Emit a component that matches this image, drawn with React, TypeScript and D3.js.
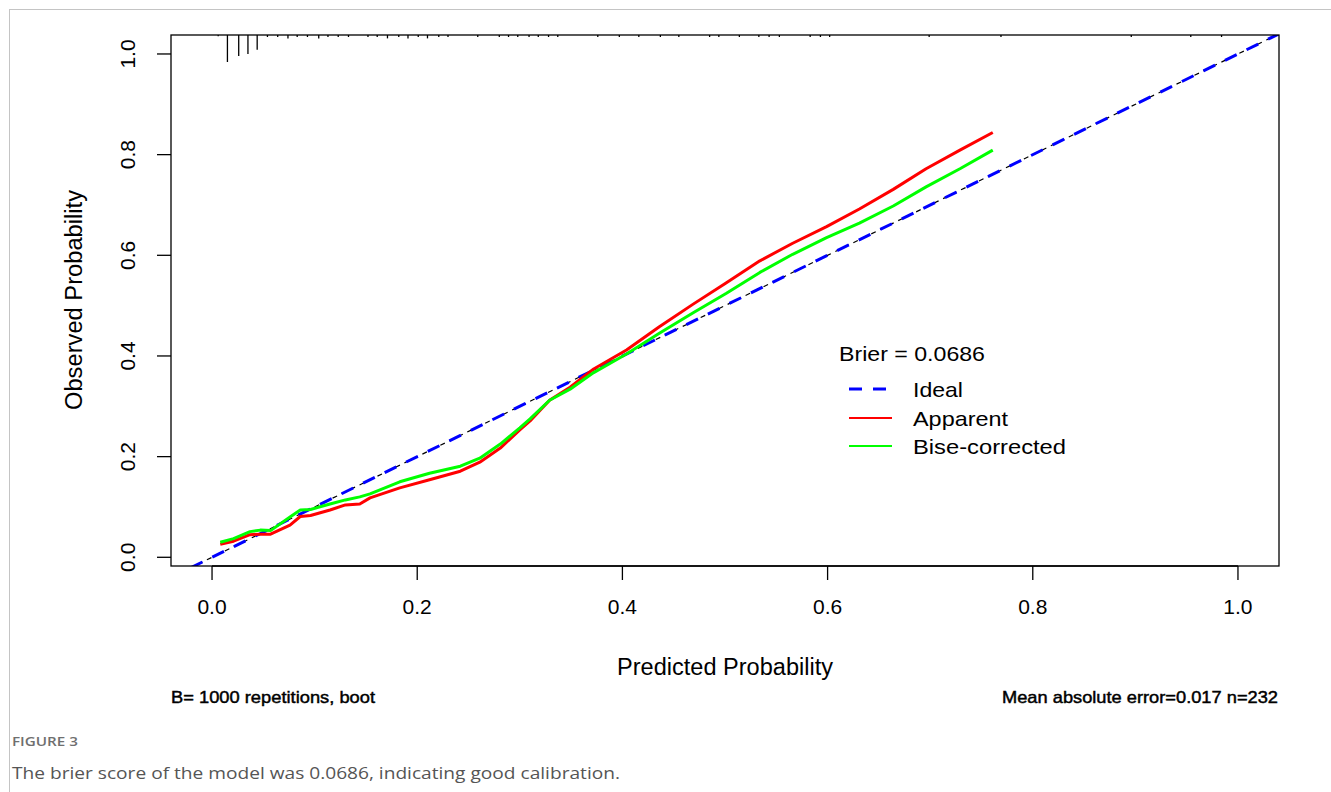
import React, { useEffect, useRef } from 'react';
import * as d3 from 'd3';

// axis ticks
const tickValues = [0, 0.2, 0.4, 0.6, 0.8, 1.0];
const tickLabels = ['0.0', '0.2', '0.4', '0.6', '0.8', '1.0'];

// calibration curves (predicted -> observed)
const predX = [
  0.008, 0.021, 0.037, 0.047, 0.057, 0.076, 0.086, 0.096, 0.115, 0.13, 0.144, 0.154,
  0.183, 0.212, 0.242, 0.261, 0.281, 0.3, 0.31, 0.329, 0.349, 0.372, 0.404, 0.436,
  0.469, 0.501, 0.534, 0.566, 0.599, 0.631, 0.664, 0.696, 0.729, 0.761,
];
const apparentY = [
  0.026, 0.032, 0.045, 0.046, 0.046, 0.064, 0.081, 0.083, 0.094, 0.104, 0.106, 0.118,
  0.138, 0.154, 0.171, 0.189, 0.217, 0.253, 0.271, 0.312, 0.338, 0.374, 0.412, 0.458,
  0.503, 0.545, 0.589, 0.624, 0.657, 0.692, 0.731, 0.772, 0.809, 0.844,
];
const biasCorrectedY = [
  0.03, 0.037, 0.051, 0.054, 0.053, 0.08, 0.094, 0.095, 0.106, 0.114, 0.12, 0.126,
  0.15, 0.167, 0.181, 0.197, 0.225, 0.257, 0.275, 0.312, 0.334, 0.367, 0.404, 0.445,
  0.486, 0.524, 0.566, 0.602, 0.635, 0.664, 0.698, 0.736, 0.772, 0.809,
];

// distribution of predicted probabilities (rug on top)
const rugX = [
  0.006, 0.015, 0.026, 0.035, 0.044, 0.054, 0.064, 0.074, 0.083, 0.093,
  0.104, 0.113, 0.123, 0.133, 0.152, 0.161, 0.171, 0.182, 0.191, 0.201,
  0.21, 0.221, 0.23, 0.259, 0.28, 0.289, 0.298, 0.309, 0.318, 0.328,
  0.337, 0.376, 0.397, 0.416, 0.437, 0.455, 0.485, 0.494, 0.514, 0.533,
  0.543, 0.553, 0.583, 0.593, 0.602, 0.699, 0.769, 0.896, 0.954, 0.984,
];
const rugFreq = [
  2, 40, 31, 28, 22, 3, 3, 5, 3, 3,
  5, 3, 3, 3, 3, 3, 5, 3, 5, 3,
  5, 3, 3, 3, 3, 3, 3, 3, 3, 3,
  3, 3, 3, 3, 3, 3, 3, 3, 3, 3,
  3, 3, 3, 3, 3, 3, 3, 3, 3, 3,
];

const idealRange = [-0.04, 1.04];

const legendLabels = ['Ideal', 'Apparent', 'Bise-corrected'];
const legendColors = ['#0000ff', '#ff0000', '#00ff00'];

const RFONT = '"Liberation Sans", Arial, sans-serif';

const App = () => {
  const svgRef = useRef(null);

  useEffect(() => {
    const svg = d3.select(svgRef.current);
    svg.selectAll('*').remove();

    const box = { left: 171, right: 1279, top: 35, bottom: 566 };
    const x = d3.scaleLinear().domain([-0.04, 1.04]).range([box.left, box.right]);
    const y = d3.scaleLinear().domain([-0.0173, 1.0377]).range([box.bottom, box.top]);

    svg.append('rect').attr('width', 1331).attr('height', 792).attr('fill', '#fff');

    // figure frame
    svg.append('rect')
      .attr('x', 9.5).attr('y', 9.5).attr('width', 1400).attr('height', 900)
      .attr('fill', 'none').attr('stroke', '#c4c4c4').attr('stroke-width', 1);

    svg.append('clipPath').attr('id', 'plotclip')
      .append('rect')
      .attr('x', box.left).attr('y', box.top)
      .attr('width', box.right - box.left).attr('height', box.bottom - box.top);

    const plot = svg.append('g').attr('clip-path', 'url(#plotclip)');

    // ideal: black thin dashed below, blue dashed on top
    const idealData = idealRange.map(v => [v, v]);
    const idealLine = d3.line().x(d => x(d[0])).y(d => y(d[1]));
    plot.append('path').attr('d', idealLine(idealData))
      .attr('fill', 'none').attr('stroke', '#000').attr('stroke-width', 1.2)
      .attr('stroke-dasharray', '5 5');
    plot.append('path').attr('d', idealLine(idealData))
      .attr('fill', 'none').attr('stroke', '#0000ff').attr('stroke-width', 3)
      .attr('stroke-dasharray', '13 11').attr('stroke-dashoffset', 2);

    const curve = d3.line().x(d => x(d[0])).y(d => y(d[1]));
    plot.append('path').attr('d', curve(predX.map((v, i) => [v, apparentY[i]])))
      .attr('fill', 'none').attr('stroke', '#ff0000').attr('stroke-width', 3)
      .attr('stroke-linejoin', 'round');
    plot.append('path').attr('d', curve(predX.map((v, i) => [v, biasCorrectedY[i]])))
      .attr('fill', 'none').attr('stroke', '#00ff00').attr('stroke-width', 3)
      .attr('stroke-linejoin', 'round');

    // rug
    const rugLen = d3.scaleLinear().domain([0, d3.max(rugFreq)]).range([0, 27]);
    svg.append('g').selectAll('line').data(rugX).enter().append('line')
      .attr('x1', d => x(d)).attr('x2', d => x(d))
      .attr('y1', box.top).attr('y2', (d, i) => box.top + rugLen(rugFreq[i]))
      .attr('stroke', '#000').attr('stroke-width', 1.3);

    // box
    svg.append('rect')
      .attr('x', box.left).attr('y', box.top)
      .attr('width', box.right - box.left).attr('height', box.bottom - box.top)
      .attr('fill', 'none').attr('stroke', '#000').attr('stroke-width', 1.3);

    // x axis
    const xa = svg.append('g');
    xa.append('line').attr('x1', x(0)).attr('x2', x(1))
      .attr('y1', box.bottom).attr('y2', box.bottom).attr('stroke', '#000').attr('stroke-width', 1.3);
    xa.selectAll('line.t').data(tickValues).enter().append('line').attr('class', 't')
      .attr('x1', d => x(d)).attr('x2', d => x(d))
      .attr('y1', box.bottom).attr('y2', box.bottom + 14)
      .attr('stroke', '#000').attr('stroke-width', 1.3);
    xa.selectAll('text').data(tickValues).enter().append('text')
      .attr('x', d => x(d)).attr('y', 607).attr('dy', '0.35em')
      .attr('text-anchor', 'middle').attr('font-family', RFONT).attr('font-size', 21)
      .attr('fill', '#000')
      .text((d, i) => tickLabels[i]);

    // y axis
    const ya = svg.append('g');
    ya.selectAll('line.t').data(tickValues).enter().append('line').attr('class', 't')
      .attr('x1', box.left - 14).attr('x2', box.left)
      .attr('y1', d => y(d)).attr('y2', d => y(d))
      .attr('stroke', '#000').attr('stroke-width', 1.3);
    ya.selectAll('text').data(tickValues).enter().append('text')
      .attr('transform', d => `translate(128,${y(d)}) rotate(-90)`)
      .attr('dy', '0.35em')
      .attr('text-anchor', 'middle').attr('font-family', RFONT).attr('font-size', 21)
      .attr('fill', '#000')
      .text((d, i) => tickLabels[i]);

    const addText = (txt, px, py, size, opts = {}) => {
      const t = svg.append('text')
        .attr('x', px).attr('y', py)
        .attr('font-family', opts.family || RFONT)
        .attr('font-size', size)
        .attr('fill', opts.fill || '#000')
        .attr('text-anchor', opts.anchor || 'start')
        .text(txt);
      if (opts.len) t.attr('textLength', opts.len).attr('lengthAdjust', 'spacingAndGlyphs');
      if (opts.weight) t.attr('font-weight', opts.weight);
      if (opts.rotate) t.attr('transform', `rotate(-90,${px},${py})`);
      if (opts.stroke) t.attr('stroke', '#000').attr('stroke-width', opts.stroke);
      return t;
    };

    // axis titles
    addText('Predicted Probability', 725, 675, 23, { anchor: 'middle', len: 216 });
    addText('Observed Probability', 82, 300, 23, { anchor: 'middle', len: 220, rotate: true });

    // subtitles
    addText('B= 1000 repetitions, boot', 171, 703, 17, { len: 204, stroke: 0.45 });
    addText('Mean absolute error=0.017 n=232', 1278, 703, 17, { anchor: 'end', len: 276, stroke: 0.45 });

    // legend
    addText('Brier = 0.0686', 839, 361, 21, { len: 146 });
    const lgY = [389, 418, 446];
    const lgWidths = [50, 95, 153];
    legendLabels.forEach((lab, i) => {
      svg.append('line')
        .attr('x1', 849).attr('x2', 892)
        .attr('y1', lgY[i]).attr('y2', lgY[i])
        .attr('stroke', legendColors[i])
        .attr('stroke-width', i === 0 ? 3 : 1.8)
        .attr('stroke-dasharray', i === 0 ? '13 11' : null);
      addText(lab, 913, lgY[i] + 8, 21, { len: lgWidths[i] });
    });

    // caption
    addText('FIGURE 3', 12, 746, 13, {
      family: '"Open Sans", "Noto Sans", sans-serif', fill: '#6f6f6f', weight: 600, len: 66,
    });
    addText('The brier score of the model was 0.0686, indicating good calibration.', 12, 779, 17, {
      family: '"Open Sans", "Noto Sans", sans-serif', fill: '#555', len: 608,
    });
  }, []);

  return (
    <svg
      ref={svgRef}
      width={1331}
      height={792}
      style={{ position: 'absolute', left: 0, top: 0, display: 'block' }}
    />
  );
};

export default App;
